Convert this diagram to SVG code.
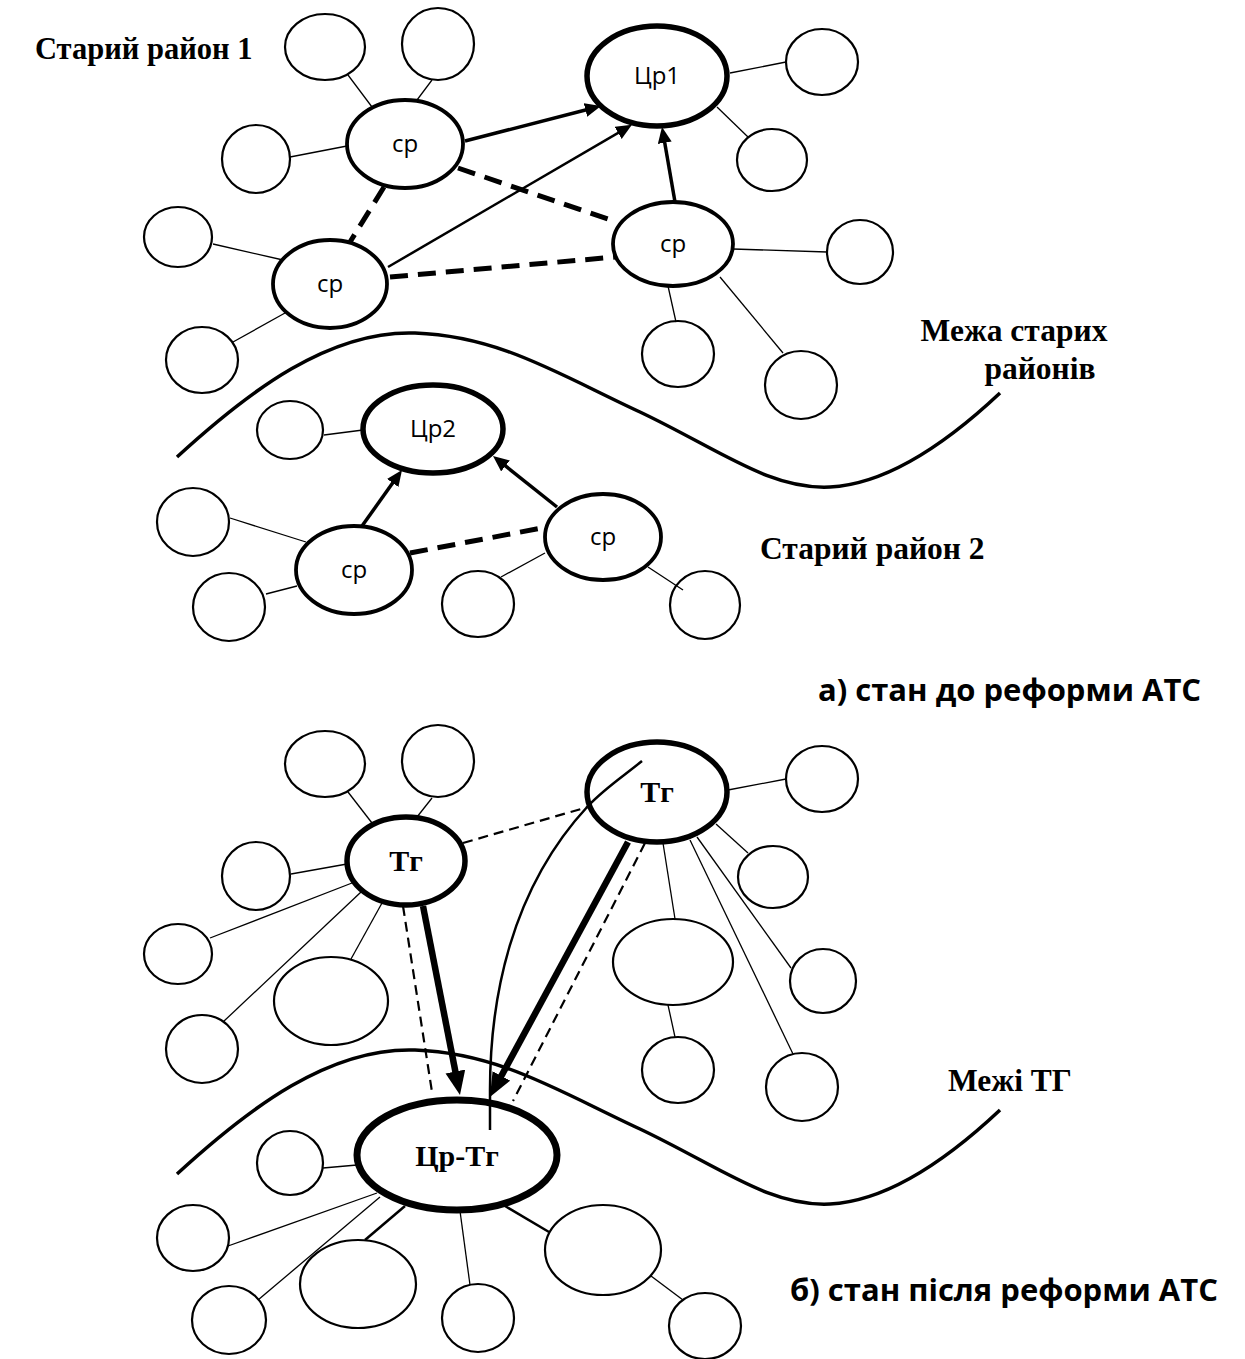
<svg xmlns="http://www.w3.org/2000/svg" width="1245" height="1359" viewBox="0 0 1245 1359">
<defs>
<style>
.bg{fill:#fff}
.n{fill:#fff;stroke:#000;stroke-width:2.2}
.m{fill:#fff;stroke:#000;stroke-width:3.8}
.c{fill:#fff;stroke:#000;stroke-width:5.5}
.cc{fill:#fff;stroke:#000;stroke-width:7}
.l{stroke:#000;stroke-width:1.3;fill:none}
.l2{stroke:#000;stroke-width:2.5;fill:none}
.a{stroke:#000;stroke-width:3.5;fill:none}
.at{stroke:#000;stroke-width:2.5;fill:none}
.ak{stroke:#000;stroke-width:6.5;fill:none}
.d{stroke:#000;stroke-width:5;stroke-dasharray:18 10;fill:none}
.dt{stroke:#000;stroke-width:2.2;stroke-dasharray:10 6;fill:none}
.b{stroke:#000;stroke-width:3.5;fill:none}
.s{font-family:"Open Sans","Liberation Sans",sans-serif;font-size:24px;text-anchor:middle;fill:#000}
.t{font-family:"Liberation Serif","Times New Roman",serif;font-weight:bold;font-size:30px;text-anchor:middle;fill:#000}
.h{font-family:"Liberation Serif","Times New Roman",serif;font-weight:bold;font-size:31.5px;fill:#000}
.cap{font-family:"Open Sans","Liberation Sans",sans-serif;font-weight:bold;font-size:31px;fill:#000}
</style>
<marker id="am" markerUnits="userSpaceOnUse" markerWidth="17" markerHeight="15" refX="6" refY="7" orient="auto"><path d="M0,0 L16,7 L0,14 z" fill="#000"/></marker>
<marker id="ab" markerUnits="userSpaceOnUse" markerWidth="25" markerHeight="21" refX="10" refY="10" orient="auto"><path d="M0,0 L24,10 L0,20 z" fill="#000"/></marker>
</defs>
<rect class="bg" x="0" y="0" width="1245" height="1359"/>

<g id="boundaries">
<path class="b" d="M177,457 C250,390 330,330 415,333 C500,336 560,375 640,412 C720,450 770,490 830,487 C890,484 950,440 1000,393"/>
<path class="b" d="M177,1174 C250,1107 330,1047 415,1050 C500,1053 560,1092 640,1129 C720,1167 770,1207 830,1204 C890,1201 950,1157 1000,1110"/>
</g>

<g id="n-small">
<ellipse class="n" cx="325" cy="47" rx="40" ry="33"/>
<ellipse class="n" cx="438" cy="44" rx="36" ry="36"/>
<ellipse class="n" cx="256" cy="159" rx="34" ry="34"/>
<ellipse class="n" cx="178" cy="237" rx="34" ry="30"/>
<ellipse class="n" cx="202" cy="360" rx="36" ry="33"/>
<ellipse class="n" cx="822" cy="62" rx="36" ry="33"/>
<ellipse class="n" cx="772" cy="160" rx="35" ry="31"/>
<ellipse class="n" cx="860" cy="252" rx="33" ry="32"/>
<ellipse class="n" cx="678" cy="354" rx="36" ry="33"/>
<ellipse class="n" cx="801" cy="385" rx="36" ry="34"/>
<ellipse class="n" cx="290" cy="430" rx="33" ry="29"/>
<ellipse class="n" cx="193" cy="522" rx="36" ry="34"/>
<ellipse class="n" cx="229" cy="607" rx="36" ry="34"/>
<ellipse class="n" cx="478" cy="604" rx="36" ry="33"/>
<ellipse class="n" cx="705" cy="605" rx="35" ry="34"/>
<ellipse class="n" cx="325" cy="764" rx="40" ry="33"/>
<ellipse class="n" cx="438" cy="761" rx="36" ry="36"/>
<ellipse class="n" cx="256" cy="876" rx="34" ry="34"/>
<ellipse class="n" cx="178" cy="954" rx="34" ry="30"/>
<ellipse class="n" cx="202" cy="1049" rx="36" ry="34"/>
<ellipse class="n" cx="331" cy="1001" rx="57" ry="44"/>
<ellipse class="n" cx="822" cy="779" rx="36" ry="33"/>
<ellipse class="n" cx="773" cy="877" rx="35" ry="31"/>
<ellipse class="n" cx="673" cy="962" rx="60" ry="43"/>
<ellipse class="n" cx="823" cy="981" rx="33" ry="32"/>
<ellipse class="n" cx="678" cy="1070" rx="36" ry="33"/>
<ellipse class="n" cx="802" cy="1087" rx="36" ry="34"/>
<ellipse class="n" cx="290" cy="1163" rx="33" ry="32"/>
<ellipse class="n" cx="193" cy="1238" rx="36" ry="33"/>
<ellipse class="n" cx="229" cy="1320" rx="37" ry="34"/>
<ellipse class="n" cx="358" cy="1284" rx="58" ry="44"/>
<ellipse class="n" cx="478" cy="1318" rx="36" ry="34"/>
<ellipse class="n" cx="603" cy="1250" rx="58" ry="45"/>
<ellipse class="n" cx="705" cy="1326" rx="36" ry="33"/>
</g>

<g id="cp1"><ellipse class="m" cx="405" cy="144" rx="58" ry="44"/><text class="s" x="405" y="152">ср</text></g>
<g id="cp2"><ellipse class="m" cx="330" cy="284" rx="57" ry="44"/><text class="s" x="330" y="292">ср</text></g>
<g id="cp3"><ellipse class="m" cx="673" cy="244" rx="60" ry="42"/><text class="s" x="673" y="252">ср</text></g>
<g id="cr1"><ellipse class="c" cx="657" cy="76" rx="70" ry="50"/><text class="s" x="657" y="84">Цр1</text></g>
<g id="cr2"><ellipse class="c" cx="433" cy="429" rx="70" ry="44"/><text class="s" x="433" y="437">Цр2</text></g>
<g id="cp4"><ellipse class="m" cx="354" cy="570" rx="58" ry="44"/><text class="s" x="354" y="578">ср</text></g>
<g id="cp5"><ellipse class="m" cx="603" cy="537" rx="58" ry="43"/><text class="s" x="603" y="545">ср</text></g>
<g id="tg1"><ellipse class="c" cx="406" cy="861" rx="59" ry="44"/><text class="t" x="406" y="871">Тг</text></g>
<g id="tg2"><ellipse class="c" cx="657" cy="792" rx="70" ry="50"/><text class="t" x="657" y="802">Тг</text></g>
<g id="crtg"><ellipse class="cc" cx="457" cy="1155" rx="100" ry="55"/><text class="t" x="457" y="1166">Цр-Тг</text></g>

<g id="connectors">
<line class="l" x1="348" y1="75" x2="372" y2="107"/>
<line class="l" x1="432" y1="80" x2="417" y2="100"/>
<line class="l" x1="290" y1="157" x2="347" y2="146"/>
<line class="l" x1="213" y1="244" x2="283" y2="260"/>
<line class="l" x1="233" y1="342" x2="285" y2="313"/>
<line class="l" x1="730" y1="73" x2="786" y2="62"/>
<line class="l" x1="717" y1="107" x2="748" y2="137"/>
<line class="l" x1="733" y1="249" x2="827" y2="252"/>
<line class="l" x1="668" y1="286" x2="676" y2="322"/>
<line class="l" x1="720" y1="277" x2="783" y2="353"/>
<line class="d" x1="384" y1="187" x2="350" y2="242"/>
<line class="d" x1="458" y1="168" x2="617" y2="222"/>
<line class="d" x1="390" y1="277" x2="615" y2="257"/>
<line class="a" x1="465" y1="141" x2="591.3" y2="108.5" marker-end="url(#am)"/>
<line class="at" x1="388" y1="267" x2="623.3" y2="129.9" marker-end="url(#am)"/>
<line class="a" x1="675" y1="202" x2="663.7" y2="136.8" marker-end="url(#am)"/>
<line class="l" x1="324" y1="435" x2="363" y2="430"/>
<line class="l" x1="230" y1="518" x2="306" y2="542"/>
<line class="l" x1="266" y1="594" x2="297" y2="586"/>
<line class="l" x1="501" y1="577" x2="545" y2="553"/>
<line class="l" x1="648" y1="567" x2="683" y2="590"/>
<line class="d" x1="410" y1="553" x2="547" y2="527"/>
<line class="a" x1="362" y1="526" x2="396.2" y2="478.1" marker-end="url(#am)"/>
<line class="a" x1="557" y1="507" x2="500.8" y2="462.2" marker-end="url(#am)"/>
<line class="l" x1="348" y1="792" x2="372" y2="823"/>
<line class="l" x1="432" y1="798" x2="417" y2="817"/>
<line class="l" x1="291" y1="874" x2="347" y2="864"/>
<line class="l" x1="210" y1="938" x2="352" y2="883"/>
<line class="l" x1="223" y1="1022" x2="361" y2="892"/>
<line class="l" x1="351" y1="959" x2="382" y2="903"/>
<line class="l" x1="728" y1="790" x2="786" y2="779"/>
<line class="l" x1="716" y1="824" x2="748" y2="853"/>
<line class="l" x1="663" y1="843" x2="675" y2="919"/>
<line class="l" x1="697" y1="837" x2="791" y2="968"/>
<line class="l" x1="668" y1="1005" x2="675" y2="1037"/>
<line class="l" x1="690" y1="840" x2="793" y2="1054"/>
<line class="l" x1="323" y1="1168" x2="357" y2="1165"/>
<line class="l" x1="377" y1="1193" x2="228" y2="1246"/>
<line class="l" x1="380" y1="1197" x2="258" y2="1300"/>
<line class="l2" x1="405" y1="1206" x2="365" y2="1240"/>
<line class="l" x1="460" y1="1211" x2="470" y2="1285"/>
<line class="l2" x1="505" y1="1206" x2="549" y2="1232"/>
<line class="l" x1="651" y1="1276" x2="683" y2="1300"/>
<line class="dt" x1="463" y1="843" x2="588" y2="807"/>
<line class="dt" x1="403" y1="906" x2="432" y2="1092"/>
<line class="dt" x1="645" y1="843" x2="513" y2="1101"/>
<path class="l2" d="M490,1130 L490,1090 C490,1000 510,890 588,806 C605,788 625,775 642,761"/>
<line class="ak" x1="423" y1="906" x2="457.3" y2="1081.3" marker-end="url(#ab)"/>
<line class="ak" x1="628" y1="842" x2="496.6" y2="1084.7" marker-end="url(#ab)"/>
</g>

<g id="labels">
<text class="h" x="35" y="59" style="font-size:30.5px">Старий район 1</text>
<text class="h" x="1014" y="341" text-anchor="middle">Межа старих</text>
<text class="h" x="1040" y="379" text-anchor="middle">районів</text>
<text class="h" x="760" y="559">Старий район 2</text>
<text class="cap" x="818" y="701">а) стан до реформи АТС</text>
<text class="h" x="948" y="1091">Межі ТГ</text>
<text class="cap" x="790" y="1301">б) стан після реформи АТС</text>
</g>
</svg>
